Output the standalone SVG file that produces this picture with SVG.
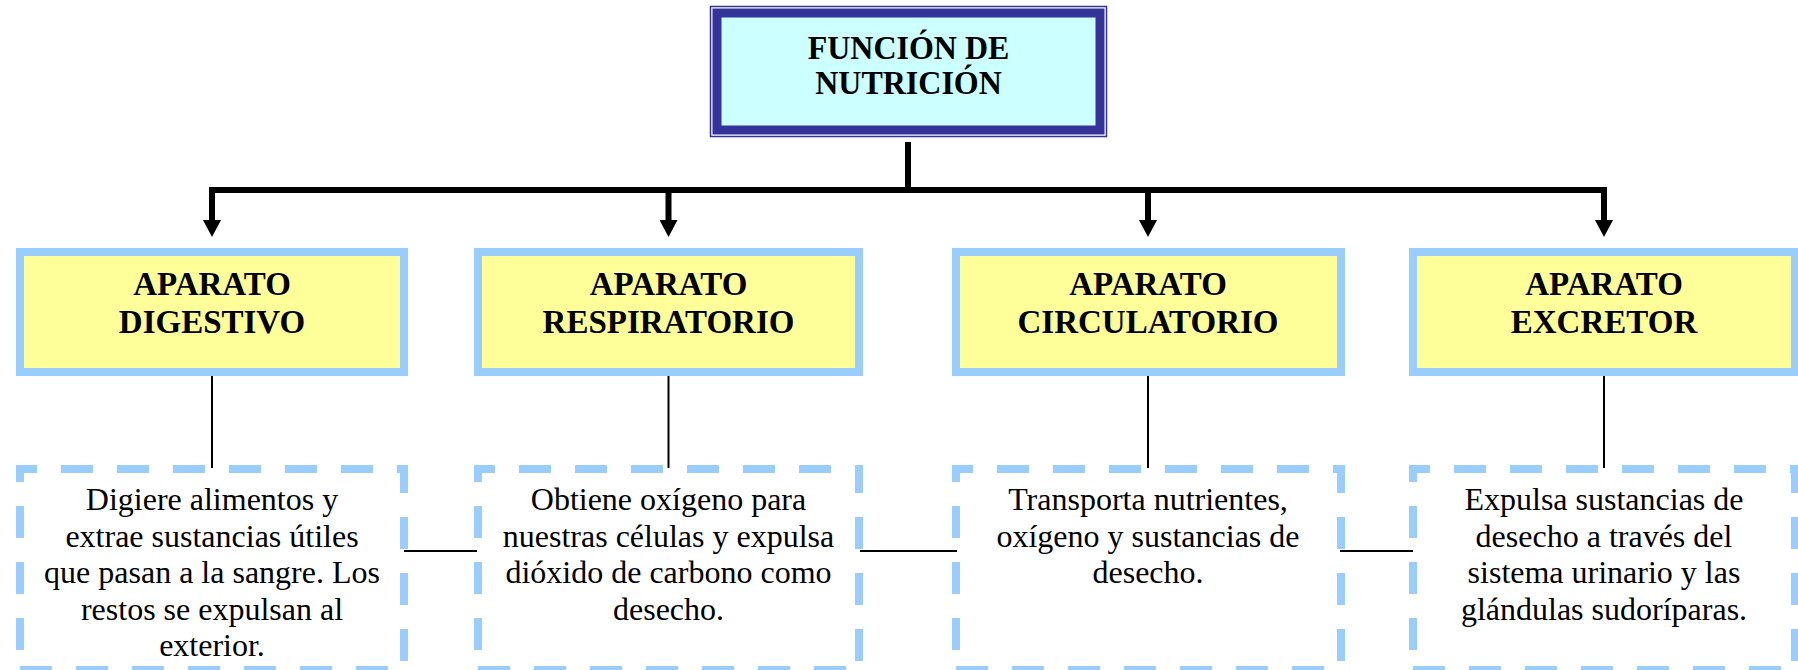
<svg xmlns="http://www.w3.org/2000/svg" width="1798" height="670" viewBox="0 0 1798 670">
<style>
.ybox{fill:#FFFF99;stroke:#99CCFF;stroke-width:8}
.ytxt{font-family:"Liberation Serif",serif;font-weight:bold;font-size:33px;text-anchor:middle;fill:#000}
.ttxt{font-family:"Liberation Serif",serif;font-weight:bold;font-size:32px;text-anchor:middle;fill:#000}
.dtxt{font-family:"Liberation Serif",serif;font-size:32px;text-anchor:middle;fill:#000}
.dh{stroke:#99CCFF;stroke-width:8;stroke-dasharray:32 24;fill:none}
.thick{stroke:#000;stroke-width:6;fill:none}
.thin{stroke:#000;stroke-width:2;fill:none}
</style>
<defs>
<marker id="ah" markerUnits="userSpaceOnUse" markerWidth="18" markerHeight="18" viewBox="0 0 17 18" refX="0" refY="9" orient="auto">
<path d="M0,0 L17,9 L0,18 z" fill="#000"/>
</marker>
<clipPath id="clip1"><rect x="24" y="473" width="376" height="184"/></clipPath>
</defs>
<rect width="1798" height="670" fill="#fff"/>

<g id="top">
<rect x="710.5" y="6.5" width="396" height="130" fill="#fff" stroke="#333399" stroke-width="1.5"/>
<rect x="717" y="13" width="383" height="117" fill="#CCFFFF" stroke="#333399" stroke-width="9"/>
<g transform="translate(908.5,0) scale(1,1.08)">
<text class="ttxt" x="0" y="54.6">FUNCIÓN DE</text>
<text class="ttxt" x="0" y="87">NUTRICIÓN</text>
</g>
</g>

<g id="connectors">
<line class="thick" x1="908" y1="142" x2="908" y2="190"/>
<line class="thick" x1="209" y1="190" x2="1607" y2="190"/>
<line class="thick" x1="212" y1="190" x2="212" y2="220" marker-end="url(#ah)"/>
<line class="thick" x1="668.5" y1="190" x2="668.5" y2="220" marker-end="url(#ah)"/>
<line class="thick" x1="1148" y1="190" x2="1148" y2="220" marker-end="url(#ah)"/>
<line class="thick" x1="1604" y1="190" x2="1604" y2="220" marker-end="url(#ah)"/>
<line class="thin" x1="212" y1="372" x2="212" y2="468"/>
<line class="thin" x1="668.5" y1="372" x2="668.5" y2="468"/>
<line class="thin" x1="1148" y1="372" x2="1148" y2="468"/>
<line class="thin" x1="1604" y1="372" x2="1604" y2="468"/>
<line class="thin" x1="404" y1="551" x2="477" y2="551"/>
<line class="thin" x1="860" y1="551" x2="957" y2="551"/>
<line class="thin" x1="1340" y1="551" x2="1413" y2="551"/>
</g>

<g id="digestivo">
<rect class="ybox" x="20" y="252" width="384" height="120"/>
<text class="ytxt" x="212" y="295">APARATO</text>
<text class="ytxt" x="212" y="333">DIGESTIVO</text>
</g>
<g id="respiratorio">
<rect class="ybox" x="478" y="252" width="381" height="120"/>
<text class="ytxt" x="668.5" y="295">APARATO</text>
<text class="ytxt" x="668.5" y="333">RESPIRATORIO</text>
</g>
<g id="circulatorio">
<rect class="ybox" x="956" y="252" width="385" height="120"/>
<text class="ytxt" x="1148" y="295">APARATO</text>
<text class="ytxt" x="1148" y="333">CIRCULATORIO</text>
</g>
<g id="excretor">
<rect class="ybox" x="1413" y="252" width="382" height="120"/>
<text class="ytxt" x="1604" y="295">APARATO</text>
<text class="ytxt" x="1604" y="333">EXCRETOR</text>
</g>

<g id="desc-digestivo">
<line class="dh" x1="16" y1="469" x2="408" y2="469" stroke-dashoffset="11"/>
<line class="dh" x1="20" y1="670" x2="408" y2="670"/>
<line class="dh" x1="20" y1="465" x2="20" y2="670" stroke-dashoffset="15"/>
<line class="dh" x1="404" y1="465" x2="404" y2="670" stroke-dashoffset="4"/>
<g clip-path="url(#clip1)">
<text class="dtxt" x="212" y="510">Digiere alimentos y</text>
<text class="dtxt" x="212" y="547">extrae sustancias útiles</text>
<text class="dtxt" x="212" y="583">que pasan a la sangre. Los</text>
<text class="dtxt" x="212" y="620">restos se expulsan al</text>
<text class="dtxt" x="212" y="656">exterior.</text>
</g>
</g>
<g id="desc-respiratorio">
<line class="dh" x1="474" y1="469" x2="863" y2="469" stroke-dashoffset="11"/>
<line class="dh" x1="478" y1="670" x2="863" y2="670"/>
<line class="dh" x1="478" y1="465" x2="478" y2="670" stroke-dashoffset="15"/>
<line class="dh" x1="859" y1="465" x2="859" y2="670" stroke-dashoffset="4"/>
<text class="dtxt" x="668.5" y="510">Obtiene oxígeno para</text>
<text class="dtxt" x="668.5" y="547">nuestras células y expulsa</text>
<text class="dtxt" x="668.5" y="583">dióxido de carbono como</text>
<text class="dtxt" x="668.5" y="620">desecho.</text>
</g>
<g id="desc-circulatorio">
<line class="dh" x1="952" y1="469" x2="1345" y2="469" stroke-dashoffset="11"/>
<line class="dh" x1="956" y1="670" x2="1345" y2="670"/>
<line class="dh" x1="956" y1="465" x2="956" y2="670" stroke-dashoffset="15"/>
<line class="dh" x1="1341" y1="465" x2="1341" y2="670" stroke-dashoffset="4"/>
<text class="dtxt" x="1148" y="510">Transporta nutrientes,</text>
<text class="dtxt" x="1148" y="547">oxígeno y sustancias de</text>
<text class="dtxt" x="1148" y="583">desecho.</text>
</g>
<g id="desc-excretor">
<line class="dh" x1="1409" y1="469" x2="1799" y2="469" stroke-dashoffset="11"/>
<line class="dh" x1="1413" y1="670" x2="1799" y2="670"/>
<line class="dh" x1="1413" y1="465" x2="1413" y2="670" stroke-dashoffset="15"/>
<line class="dh" x1="1795" y1="465" x2="1795" y2="670" stroke-dashoffset="4"/>
<text class="dtxt" x="1604" y="510">Expulsa sustancias de</text>
<text class="dtxt" x="1604" y="547">desecho a través del</text>
<text class="dtxt" x="1604" y="583">sistema urinario y las</text>
<text class="dtxt" x="1604" y="620">glándulas sudoríparas.</text>
</g>
</svg>
